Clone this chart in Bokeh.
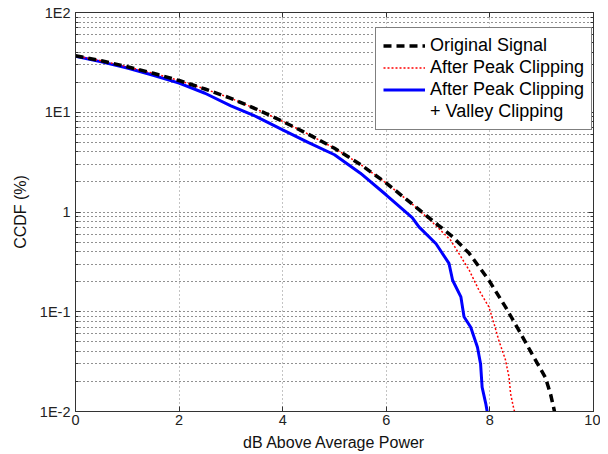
from bokeh.plotting import figure
from bokeh.models import (LinearAxis, LogAxis, FixedTicker, CustomJSTickFormatter,
                          Legend, LegendItem, Range1d)
from bokeh.embed import file_html
from bokeh.resources import INLINE

# ---- data ----
orig_x = [0, 0.5, 1, 1.5, 2, 2.5, 3, 3.5, 4, 4.5, 5, 5.5, 6, 6.5, 7, 7.28, 7.6,
          7.98, 8.3, 8.56, 8.81, 9.07, 9.17, 9.23, 9.25]
orig_y = [36.8, 32.8, 28.6, 24.6, 20.8, 17.1, 13.8, 10.7, 8.1, 6.0, 4.35, 3.0,
          1.95, 1.2, 0.74, 0.565, 0.385, 0.207, 0.112, 0.065, 0.038, 0.022,
          0.015, 0.011, 0.0098]

peak_x = [0, 0.5, 1, 1.5, 2, 2.5, 3, 3.5, 4, 4.5, 5, 5.5, 6, 6.5, 6.9, 7.24,
          7.4, 7.6, 7.79, 7.98, 8.08, 8.17, 8.3, 8.37, 8.4, 8.46, 8.48]
peak_y = [36.8, 32.8, 28.6, 24.6, 20.8, 17.1, 13.8, 10.7, 8.1, 6.0, 4.35, 3.0,
          1.95, 1.2, 0.78, 0.523, 0.385, 0.261, 0.164, 0.112, 0.076, 0.052,
          0.033, 0.022, 0.015, 0.0107, 0.0098]

valley_x = [0, 0.5, 1, 1.5, 2, 2.5, 3, 3.5, 4, 4.5, 5, 5.5, 6, 6.5, 6.63, 6.96,
            7.21, 7.28, 7.44, 7.5, 7.63, 7.76, 7.82, 7.85, 7.92, 7.95]
valley_y = [36.5, 32.0, 27.8, 23.5, 19.6, 15.5, 11.6, 9.0, 6.67, 4.95, 3.75,
            2.45, 1.48, 0.88, 0.71, 0.48, 0.305, 0.207, 0.141, 0.089, 0.070,
            0.044, 0.030, 0.0175, 0.012, 0.0098]

x_ticks = [0, 2, 4, 6, 8, 10]
y_ticks = [0.01, 0.1, 1, 10, 100]
y_minor = [m * d for d in [0.01, 0.1, 1, 10] for m in range(2, 10)]
series_labels = ["Original Signal", "After Peak Clipping",
                 "After Peak Clipping", "+ Valley Clipping"]

FONT = "Liberation Sans"

p = figure(width=600, height=454, x_range=Range1d(0, 10),
           y_range=Range1d(0.01, 100), y_axis_type="log",
           output_backend="svg", toolbar_location=None,
           min_border_left=75, min_border_right=7, min_border_top=12,
           min_border_bottom=43, x_axis_label="dB Above Average Power",
           y_axis_label="CCDF (%)")
p.background_fill_color = "white"
p.border_fill_color = "white"
p.outline_line_color = "#333333"
p.outline_line_width = 1

fmt = CustomJSTickFormatter(code="""
const e = Math.round(Math.log10(tick));
const m = {"-2": "1E-2", "-1": "1E-1", "0": "1", "1": "1E1", "2": "1E2"};
return m[String(e)];
""")
blank = CustomJSTickFormatter(code="return '';")

xt = FixedTicker(ticks=x_ticks)
yt = FixedTicker(ticks=y_ticks, minor_ticks=y_minor)

for ax in p.xaxis:
    ax.ticker = xt
for ax in p.yaxis:
    ax.ticker = yt
    ax.formatter = fmt

for ax in list(p.xaxis) + list(p.yaxis):
    ax.axis_line_color = "#333333"
    ax.major_tick_in = 5
    ax.major_tick_out = 0
    ax.minor_tick_in = 3
    ax.minor_tick_out = 0
    ax.major_tick_line_color = "#333333"
    ax.minor_tick_line_color = "#333333"
    ax.major_label_text_font = FONT
    ax.major_label_text_font_size = "14.5px"
    ax.major_label_text_color = "#222222"
    ax.axis_label_text_font = FONT
    ax.axis_label_text_font_size = "16px"
    ax.axis_label_text_font_style = "normal"
    ax.axis_label_text_color = "#111111"

p.xaxis.major_label_standoff = 3
p.xaxis.axis_label_standoff = 6
p.yaxis.major_label_standoff = 5
p.yaxis.axis_label_standoff = 8

# box axes on top and right (ticks only)
top = LinearAxis(ticker=xt, formatter=blank,
                 major_tick_in=5, major_tick_out=0, minor_tick_in=0,
                 minor_tick_out=0, axis_line_color="#333333",
                 major_tick_line_color="#333333", major_label_standoff=0)
right = LogAxis(ticker=yt, formatter=blank,
                major_tick_in=5, major_tick_out=0, minor_tick_in=3,
                minor_tick_out=0, axis_line_color="#333333",
                major_tick_line_color="#333333",
                minor_tick_line_color="#333333", major_label_standoff=0)
p.add_layout(top, "above")
p.add_layout(right, "right")

# grids
p.xgrid.ticker = xt
p.xgrid.grid_line_color = "#888888"
p.xgrid.grid_line_dash = "1 3"
p.ygrid.ticker = yt
p.ygrid.grid_line_color = "#222222"
p.ygrid.grid_line_dash = "1 3"
p.ygrid.minor_grid_line_color = "#222222"
p.ygrid.minor_grid_line_dash = "1 3"

r3 = p.line(valley_x, valley_y, line_color="blue", line_width=3)
r2 = p.line(peak_x, peak_y, line_color="red", line_width=1.5,
            line_dash="2 2")
r1 = p.line(orig_x, orig_y, line_color="black", line_width=3.5,
            line_dash="8 5")
# invisible helper so the blue entry can take a second text line
r4 = p.line(valley_x, valley_y, line_alpha=0)

legend = Legend(items=[LegendItem(label=series_labels[0], renderers=[r1]),
                       LegendItem(label=series_labels[1], renderers=[r2]),
                       LegendItem(label=series_labels[2], renderers=[r3]),
                       LegendItem(label=series_labels[3], renderers=[r4])],
                location=(300, 281))
legend.label_text_font = FONT
legend.label_text_font_size = "18px"
legend.label_text_color = "black"
legend.label_height = 19
legend.glyph_height = 19
legend.glyph_width = 42
legend.label_standoff = 5
legend.padding = 7
legend.spacing = 1
legend.border_line_color = "black"
legend.border_line_width = 1
legend.background_fill_alpha = 1
legend.margin = 0
p.add_layout(legend, "center")

open("out.html", "w").write(file_html(p, INLINE))
